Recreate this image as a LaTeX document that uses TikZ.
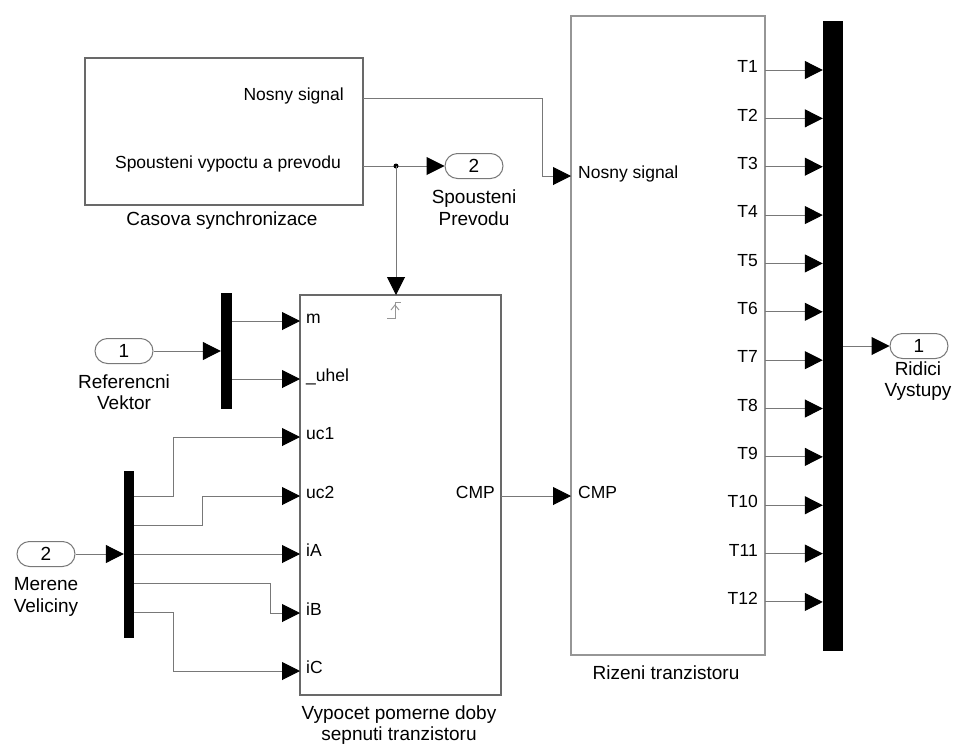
\documentclass[tikz,border=0pt]{standalone}
\usepackage{fontspec}
\setmainfont{Liberation Sans}
\usetikzlibrary{arrows.meta}
\definecolor{wirec}{RGB}{120,120,120}
\definecolor{blkc}{RGB}{105,105,105}
\definecolor{blkl}{RGB}{150,150,150}
\begin{document}
\begin{tikzpicture}[x=1pt,y=-1pt,
  blk/.style={draw=blkc,line width=1.4pt,rectangle,inner sep=0pt},
  bar/.style={fill=black,draw=none,rectangle,inner sep=0pt},
  oval/.style={draw=wirec,line width=1pt,rounded corners=12.5pt,minimum width=58pt,minimum height=25pt,inner sep=0pt,font=\fontsize{19}{22}\selectfont},
  wire/.style={draw=wirec,line width=1pt},
  sig/.style={wire,-{Triangle[length=18pt,width=18pt,color=black,fill=black]}},
  plab/.style={inner sep=0pt,font=\fontsize{17.5}{20}\selectfont},
  blab/.style={inner sep=0pt,font=\fontsize{19}{21.5}\selectfont,align=center},
]
\useasboundingbox (0,0) rectangle (954,747);

% ---------- Casova synchronizace ----------
\node[blk,minimum width=278pt,minimum height=147pt] (cas) at (224,131.5) {};
\node[plab,anchor=mid east] (casNoL) at (344,98) {Nosny signal};
\node[plab,anchor=mid east] (casSpL) at (341,166) {Spousteni vypoctu a prevodu};
\node[blab] (casL) at (222,221) {Casova synchronizace};
\coordinate (casNo) at (363,98);
\coordinate (casSp) at (363,166);

% ---------- Vypocet block ----------
\node[blk,minimum width=201pt,minimum height=400pt] (vyp) at (400.5,495) {};
\node[blab] (vypL) at (399,725) {Vypocet pomerne doby\\sepnuti tranzistoru};
\coordinate (vm) at (300,321);
\coordinate (vu) at (300,379);
\coordinate (vuc1) at (300,437);
\coordinate (vuc2) at (300,496);
\coordinate (viA) at (300,554);
\coordinate (viB) at (300,613);
\coordinate (viC) at (300,671);
\coordinate (vCMP) at (501,496);
\coordinate (vTr) at (396,295);
\node[plab,anchor=mid west] (vmL) at (306,321) {m};
\node[plab,anchor=mid west] (vuL) at (306,379) {\_uhel};
\node[plab,anchor=mid west] (vuc1L) at (306,437) {uc1};
\node[plab,anchor=mid west] (vuc2L) at (306,496) {uc2};
\node[plab,anchor=mid west] (viAL) at (306,554) {iA};
\node[plab,anchor=mid west] (viBL) at (306,613) {iB};
\node[plab,anchor=mid west] (viCL) at (306,671) {iC};
\node[plab,anchor=mid east] (vCMPL) at (495,496) {CMP};
% trigger symbol
\draw[blkl,line width=1pt] (387,318) -- (395,318) -- (395,302) -- (401,302);
\draw[blkl,line width=1pt] (391,310) -- (395,305) -- (399,310);

% ---------- Rizeni tranzistoru ----------
\node[blk,draw=blkl,minimum width=194pt,minimum height=639pt] (riz) at (668,335.5) {};
\node[blab] (rizL) at (666,673) {Rizeni tranzistoru};
\coordinate (rizNo) at (571,176);
\coordinate (rizCMP) at (571,496);
\node[plab,anchor=mid west] (rizNoL) at (578,176) {Nosny signal};
\node[plab,anchor=mid west] (rizCMPL) at (578,496) {CMP};

% ---------- Mux bars ----------
\node[bar,minimum width=20pt,minimum height=630pt] (muxR) at (833,336) {};
\node[bar,minimum width=11pt,minimum height=116pt] (mux1) at (226.5,351) {};
\node[bar,minimum width=10pt,minimum height=167pt] (mux2) at (129,554) {};

% ---------- ports ----------
\node[oval] (in1) at (124,351) {1};
\node[blab] (in1L) at (124,392) {Referencni\\Vektor};
\node[oval] (in2) at (46,554) {2};
\node[blab] (in2L) at (46,597) {Merene\\Veliciny};
\node[oval] (out2) at (474,166) {2};
\node[blab] (out2L) at (474,207.5) {Spousteni\\Prevodu};
\node[oval] (out1) at (919,346) {1};
\node[blab] (out1L) at (918,381) {Ridici\\Vystupy};

% ---------- connectors ----------
\draw[sig] (casNo) -- ++(179,0) |- (rizNo);
\coordinate (br) at (396,166);
\draw[sig] (casSp) -- (out2.west);
\fill (br) circle (2.5pt);
\draw[sig] (br) -- (vTr);

\draw[sig] (in1.east) -- (mux1.west);
\draw[sig] (mux1.east |- vm) -- (vm);
\draw[sig] (mux1.east |- vu) -- (vu);

\draw[sig] (in2.east) -- (mux2.west);
\coordinate (m2a) at (134,496);
\coordinate (m2b) at (134,525);
\coordinate (m2c) at (134,554);
\coordinate (m2d) at (134,583);
\coordinate (m2e) at (134,612);
\draw[sig] (m2a) -- (173,496) |- (vuc1);
\draw[sig] (m2b) -- (202,525) |- (vuc2);
\draw[sig] (m2c) -- (viA);
\draw[sig] (m2d) -- (270,583) |- (viB);
\draw[sig] (m2e) -- (173,612) |- (viC);

\draw[sig] (vCMP) -- (rizCMP);

\foreach \i in {1,...,12} {
  \pgfmathsetmacro\yy{70+48.36*(\i-1)}
  \coordinate (rizT\i) at (765,\yy);
  \node[plab,anchor=mid east] (rizTL\i) at (758,\yy) {T\i};
  \draw[sig] (rizT\i) -- (muxR.west |- rizT\i);
}
\draw[sig] (muxR.east |- out1) -- (out1.west);
\end{tikzpicture}
\end{document}
